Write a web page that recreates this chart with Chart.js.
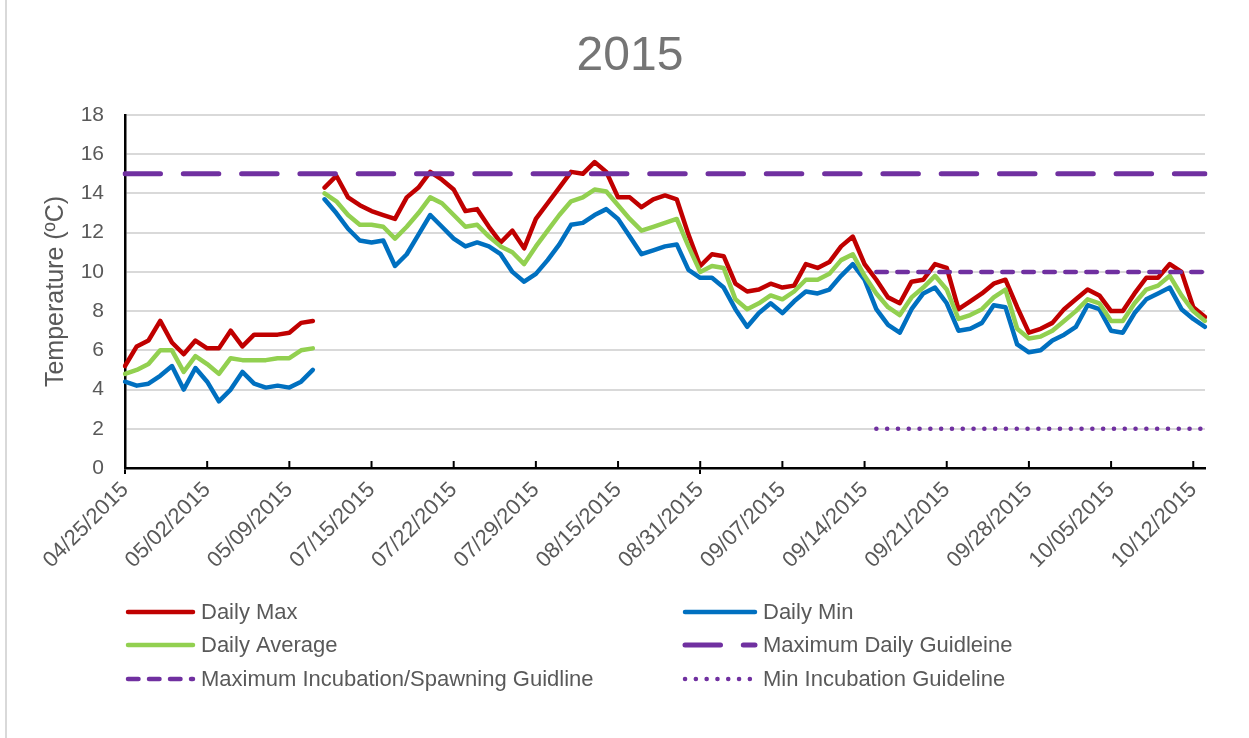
<!DOCTYPE html>
<html><head><meta charset="utf-8">
<script src="https://cdn.jsdelivr.net/npm/chart.js@4.4.1/dist/chart.umd.min.js"></script>
<style>html,body{margin:0;padding:0;background:#fff;}#wrap{width:1249px;height:738px;position:relative;}</style>
</head><body><div id="wrap"><canvas id="c" width="1249" height="738"></canvas></div>
<script>
// ---- categories (one per recorded day) ----
const dates = [
 '04/25/2015','04/26/2015','04/27/2015','04/28/2015','04/29/2015','04/30/2015','05/01/2015','05/02/2015',
 '05/03/2015','05/04/2015','05/05/2015','05/06/2015','05/07/2015','05/08/2015','05/09/2015','05/10/2015','05/11/2015',
 '07/11/2015','07/12/2015','07/13/2015','07/14/2015','07/15/2015','07/16/2015','07/17/2015','07/18/2015','07/19/2015',
 '07/20/2015','07/21/2015','07/22/2015','07/23/2015','07/24/2015','07/25/2015','07/26/2015','07/27/2015','07/28/2015','07/29/2015',
 '08/09/2015','08/10/2015','08/11/2015','08/12/2015','08/13/2015','08/14/2015','08/15/2015',
 '08/25/2015','08/26/2015','08/27/2015','08/28/2015','08/29/2015','08/30/2015','08/31/2015',
 '09/01/2015','09/02/2015','09/03/2015','09/04/2015','09/05/2015','09/06/2015','09/07/2015','09/08/2015','09/09/2015','09/10/2015',
 '09/11/2015','09/12/2015','09/13/2015','09/14/2015','09/15/2015','09/16/2015','09/17/2015','09/18/2015','09/19/2015','09/20/2015',
 '09/21/2015','09/22/2015','09/23/2015','09/24/2015','09/25/2015','09/26/2015','09/27/2015','09/28/2015','09/29/2015','09/30/2015',
 '10/01/2015','10/02/2015','10/03/2015','10/04/2015','10/05/2015','10/06/2015','10/07/2015','10/08/2015','10/09/2015','10/10/2015',
 '10/11/2015','10/12/2015','10/13/2015'
];
// ---- series values (ºC) ----
const dailyMax = [
 5.2,6.2,6.5,7.5,6.4,5.8,6.5,6.1,6.1,7.0,6.2,6.8,6.8,6.8,6.9,7.4,7.5,
 14.3,14.9,13.8,13.4,13.1,12.9,12.7,13.8,14.3,15.1,14.7,14.2,13.1,13.2,12.3,11.5,12.1,11.2,12.7,13.5,14.3,
 15.1,15.0,15.6,15.1,13.8,13.8,13.3,13.7,13.9,13.7,11.9,10.3,10.9,10.8,9.4,9.0,9.1,9.4,9.2,9.3,
 10.4,10.2,10.5,11.3,11.8,10.4,9.6,8.7,8.4,9.5,9.6,10.4,10.2,8.1,8.5,8.9,9.4,9.6,8.2,
 6.9,7.1,7.4,8.1,8.6,9.1,8.8,8.0,8.0,8.9,9.7,9.7,10.4,10.0,8.2,7.7
];
const dailyMin = [
 4.4,4.2,4.3,4.7,5.2,4.0,5.1,4.4,3.4,4.0,4.9,4.3,4.1,4.2,4.1,4.4,5.0,
 13.7,13.0,12.2,11.6,11.5,11.6,10.3,10.9,11.9,12.9,12.3,11.7,11.3,11.5,11.3,10.9,10.0,9.5,9.9,10.6,11.4,
 12.4,12.5,12.9,13.2,12.7,11.8,10.9,11.1,11.3,11.4,10.1,9.7,9.7,9.2,8.1,7.2,7.9,8.4,7.9,8.5,
 9.0,8.9,9.1,9.8,10.4,9.6,8.1,7.3,6.9,8.1,8.9,9.2,8.4,7.0,7.1,7.4,8.3,8.2,6.3,
 5.9,6.0,6.5,6.8,7.2,8.3,8.1,7.0,6.9,7.9,8.6,8.9,9.2,8.1,7.6,7.2
];
const dailyAverage = [
 4.8,5.0,5.3,6.0,6.0,4.9,5.7,5.3,4.8,5.6,5.5,5.5,5.5,5.6,5.6,6.0,6.1,
 14.0,13.6,12.9,12.4,12.4,12.3,11.7,12.3,13.0,13.8,13.5,12.9,12.3,12.4,11.8,11.3,11.0,10.4,11.3,12.1,12.9,
 13.6,13.8,14.2,14.1,13.4,12.7,12.1,12.3,12.5,12.7,11.3,10.0,10.3,10.2,8.6,8.1,8.4,8.8,8.6,9.0,
 9.6,9.6,9.9,10.6,10.9,9.8,8.9,8.2,7.8,8.7,9.2,9.8,9.1,7.6,7.8,8.1,8.7,9.1,7.1,
 6.6,6.7,7.0,7.5,8.0,8.6,8.4,7.5,7.5,8.4,9.1,9.3,9.8,8.8,8.0,7.5
];
// recording stops after this day and resumes on the next category
const recordBreakAfter = ['05/11/2015'];
// ---- guidelines ----
const guidelineNames  = ['Maximum Daily Guidleine','Maximum Incubation/Spawning Guidline','Min Incubation Guideline'];
const guidelineValues = [15, 10, 2];
const guidelineStart  = ['04/25/2015','09/15/2015','09/15/2015'];
const guidelineEnd    = ['10/13/2015','10/13/2015','10/13/2015'];
// ---- axis / title ----
const chartTitle = '2015';
const yMin = 0, yMax = 18, yStep = 2;
const xLabelEvery = 7;

const FONT = '"Liberation Sans", Arial, sans-serif';
const GRAY = '#595959';
const breakIdx = new Set(recordBreakAfter.map(d => dates.indexOf(d)));
const hideBreak = ctx => breakIdx.has(ctx.p0DataIndex) ? 'rgba(0,0,0,0)' : undefined;

function series(label, data, color, order) {
  return { label, data, borderColor: color, backgroundColor: color, borderWidth: 4.5,
    pointRadius: 0, tension: 0, borderCapStyle: 'round', borderJoinStyle: 'round',
    spanGaps: false, order, segment: { borderColor: hideBreak } };
}
function guide(k, dash, width, order) {
  return { label: guidelineNames[k],
    data: [{x: guidelineStart[k], y: guidelineValues[k]}, {x: guidelineEnd[k], y: guidelineValues[k]}],
    borderColor: '#7030A0', backgroundColor: '#7030A0', borderWidth: width, borderDash: dash,
    borderCapStyle: 'round', pointRadius: 0, order };
}

const datasets = [
  series('Daily Max', dailyMax, '#C00000', 0),
  series('Daily Min', dailyMin, '#0070C0', -1),
  series('Daily Average', dailyAverage, '#92D050', -2),
  guide(0, [35.5, 22.8], 5, -3),
  guide(1, [10.5, 10.5], 4.5, -4),
  guide(2, [0.1, 10.7], 4.5, -5)
];

const legendLayout = { cols: [{line: [128, 193], text: 201}, {line: [685, 755], text: 763}], rows: [612, 645, 679] };

const deco = {
  id: 'deco',
  afterDraw(chart) {
    const {ctx} = chart; const x = chart.scales.x;
    ctx.save();
    // frame line on the left
    ctx.strokeStyle = '#D9D9D9'; ctx.lineWidth = 2;
    ctx.beginPath(); ctx.moveTo(6, 0); ctx.lineTo(6, 738); ctx.stroke();
    // title
    ctx.font = '48px ' + FONT; ctx.fillStyle = '#757575';
    ctx.textAlign = 'center'; ctx.textBaseline = 'middle';
    ctx.fillText(chartTitle, 630, 57);
    // upper half of the category tick marks
    ctx.strokeStyle = '#000'; ctx.lineWidth = 2;
    dates.forEach((d, i) => {
      if (i % xLabelEvery) return;
      const px = x.getPixelForValue(i);
      ctx.beginPath(); ctx.moveTo(px, x.top - 7); ctx.lineTo(px, x.top); ctx.stroke();
    });
    // legend
    ctx.font = '22px ' + FONT; ctx.textBaseline = 'middle'; ctx.textAlign = 'left';
    chart.data.datasets.forEach((ds, i) => {
      const col = legendLayout.cols[i % 2]; const y = legendLayout.rows[Math.floor(i / 2)];
      ctx.setLineDash(ds.borderDash || []); ctx.lineCap = 'round';
      ctx.strokeStyle = ds.borderColor; ctx.lineWidth = ds.borderWidth;
      ctx.beginPath(); ctx.moveTo(col.line[0], y); ctx.lineTo(col.line[1], y); ctx.stroke();
      ctx.setLineDash([]);
      ctx.fillStyle = GRAY; ctx.fillText(ds.label, col.text, y + 1);
    });
    ctx.restore();
  }
};

new Chart(document.getElementById('c'), {
  type: 'line',
  data: { labels: dates, datasets },
  plugins: [deco],
  options: {
    responsive: false, animation: false, events: [],
    layout: { padding: { left: 0, right: 44, top: 115, bottom: 160 } },
    plugins: { legend: { display: false }, tooltip: { enabled: false }, title: { display: false } },
    scales: {
      x: {
        type: 'category', offset: false,
        afterFit: s => { s.height = 110; },
        border: { display: true, color: '#000', width: 2.5 },
        grid: { display: true, drawOnChartArea: false, drawTicks: true, tickLength: 6, lineWidth: 2,
          color: ctx => (ctx.index % xLabelEvery === 0 ? '#000' : 'rgba(0,0,0,0)') },
        ticks: { autoSkip: false, minRotation: 45, maxRotation: 45, padding: 3, color: GRAY,
          font: { family: FONT, size: 22 },
          callback: (v, i) => (i % xLabelEvery === 0 ? dates[i] : null) }
      },
      y: {
        min: yMin, max: yMax,
        afterFit: s => { s.width = 125; },
        border: { display: true, color: '#000', width: 2.5 },
        grid: { color: '#D9D9D9', lineWidth: 2, drawTicks: false },
        ticks: { stepSize: yStep, padding: 21, color: GRAY, font: { family: FONT, size: 21 } },
        title: { display: true, text: 'Temperature (ºC)', color: GRAY,
          font: { family: FONT, size: 25 }, padding: { top: 41, bottom: 0 } }
      }
    }
  }
});
</script></body></html>
